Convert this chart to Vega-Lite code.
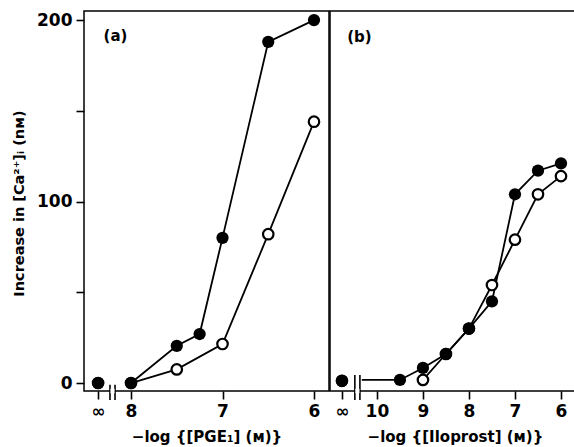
{
  "$schema": "https://vega.github.io/schema/vega-lite/v6.json",
  "padding": {"left": 10, "top": 10, "right": 0, "bottom": 0},
  "spacing": -2,
  "config": {
    "font": "DejaVu Sans",
    "view": {"stroke": "black", "strokeWidth": 1.5},
    "axis": {"domain": false, "grid": false, "tickColor": "black", "tickWidth": 1.6, "tickSize": 8, "labelColor": "black", "labelFontSize": 17, "labelFontWeight": "bold", "labelPadding": 4, "titleColor": "black", "titleFontWeight": "bold"}
  },
  "datasets": {
    "a": [
      {"x": 8.36, "y": 0, "s": "open", "ln": 0, "pt": 1},
      {"x": 8, "y": 0, "s": "open", "ln": 1, "pt": 1},
      {"x": 7.5, "y": 7.5, "s": "open", "ln": 1, "pt": 1},
      {"x": 7, "y": 21.5, "s": "open", "ln": 1, "pt": 1},
      {"x": 6.5, "y": 82, "s": "open", "ln": 1, "pt": 1},
      {"x": 6, "y": 144, "s": "open", "ln": 1, "pt": 1},
      {"x": 8.36, "y": 0, "s": "filled", "ln": 0, "pt": 1},
      {"x": 8, "y": 0, "s": "filled", "ln": 1, "pt": 1},
      {"x": 7.5, "y": 20.5, "s": "filled", "ln": 1, "pt": 1},
      {"x": 7.25, "y": 27, "s": "filled", "ln": 1, "pt": 1},
      {"x": 7, "y": 80, "s": "filled", "ln": 1, "pt": 1},
      {"x": 6.5, "y": 188, "s": "filled", "ln": 1, "pt": 1},
      {"x": 6, "y": 200, "s": "filled", "ln": 1, "pt": 1}
    ],
    "b": [
      {"x": 10.76, "y": 1.2, "s": "open", "ln": 0, "pt": 1},
      {"x": 9, "y": 1.7, "s": "open", "ln": 1, "pt": 1},
      {"x": 8.5, "y": 16, "s": "open", "ln": 1, "pt": 1},
      {"x": 8, "y": 30, "s": "open", "ln": 1, "pt": 1},
      {"x": 7.5, "y": 54, "s": "open", "ln": 1, "pt": 1},
      {"x": 7, "y": 79, "s": "open", "ln": 1, "pt": 1},
      {"x": 6.5, "y": 104, "s": "open", "ln": 1, "pt": 1},
      {"x": 6, "y": 114, "s": "open", "ln": 1, "pt": 1},
      {"x": 10.76, "y": 1.2, "s": "filled", "ln": 0, "pt": 1},
      {"x": 10.33, "y": 1.7, "s": "filled", "ln": 1, "pt": 0},
      {"x": 9.5, "y": 1.7, "s": "filled", "ln": 1, "pt": 1},
      {"x": 9, "y": 8.3, "s": "filled", "ln": 1, "pt": 1},
      {"x": 8.5, "y": 16, "s": "filled", "ln": 1, "pt": 1},
      {"x": 8, "y": 30, "s": "filled", "ln": 1, "pt": 1},
      {"x": 7.5, "y": 45, "s": "filled", "ln": 1, "pt": 1},
      {"x": 7, "y": 104, "s": "filled", "ln": 1, "pt": 1},
      {"x": 6.5, "y": 117, "s": "filled", "ln": 1, "pt": 1},
      {"x": 6, "y": 121, "s": "filled", "ln": 1, "pt": 1}
    ],
    "breaksA": [
      {"x": 8.23, "y": -1, "y2": -9.4},
      {"x": 8.175, "y": -1, "y2": -9.4}
    ],
    "gapA": [{"x": 8.225, "x2": 8.18, "y": -3.2, "y2": -5.6}],
    "breaksB": [
      {"x": 10.48, "y": 4.4, "y2": -9.4},
      {"x": 10.37, "y": 4.4, "y2": -9.4}
    ],
    "gapB": [{"x": 10.47, "x2": 10.38, "y": -3.2, "y2": -5.6}],
    "labA": [{"x": 8.17, "y": 191, "t": "(a)"}],
    "labB": [{"x": 10.38, "y": 190.5, "t": "(b)"}]
  },
  "hconcat": [
    {
      "width": 245,
      "height": 380,
      "encoding": {
        "x": {"field": "x", "type": "quantitative",
          "scale": {"domain": [5.836, 8.514], "reverse": true, "nice": false, "zero": false},
          "axis": {"values": [8.36, 8, 7, 6], "labelExpr": "datum.value > 8.1 ? '∞' : format(datum.value, 'd')", "title": "−log {[PGE₁] (ᴍ)}", "titleFontSize": 15, "titlePadding": 10}},
        "y": {"field": "y", "type": "quantitative",
          "scale": {"domain": [-4.4, 205], "nice": false, "zero": false},
          "axis": {"values": [0, 50, 100, 150, 200], "labelExpr": "datum.value % 100 == 0 ? datum.label : ''", "title": "Increase in [Ca²⁺]ᵢ (nᴍ)", "titleFontSize": 14.5, "titlePadding": 10, "titleY": 192}}
      },
      "layer": [
        {"data": {"name": "breaksA"}, "mark": {"type": "rule", "color": "black", "strokeWidth": 1.6}, "encoding": {"y2": {"field": "y2"}}},
        {"data": {"name": "gapA"}, "mark": {"type": "rect", "color": "white"}, "encoding": {"x2": {"field": "x2"}, "y2": {"field": "y2"}}},
        {"data": {"name": "a"}, "transform": [{"filter": "datum.ln == 1"}], "mark": {"type": "line", "color": "black", "strokeWidth": 1.8}, "encoding": {"detail": {"field": "s"}}},
        {"data": {"name": "a"}, "transform": [{"filter": "datum.s == 'open' && datum.pt == 1"}], "mark": {"type": "point", "shape": "circle", "fill": "white", "stroke": "black", "strokeWidth": 2.2, "size": 110, "opacity": 1}},
        {"data": {"name": "a"}, "transform": [{"filter": "datum.s == 'filled' && datum.pt == 1"}], "mark": {"type": "point", "shape": "circle", "filled": true, "color": "black", "size": 150, "opacity": 1}},
        {"data": {"name": "labA"}, "mark": {"type": "text", "fontSize": 15, "fontWeight": "bold", "color": "black"}, "encoding": {"text": {"field": "t"}}}
      ]
    },
    {
      "width": 250,
      "height": 380,
      "encoding": {
        "x": {"field": "x", "type": "quantitative",
          "scale": {"domain": [5.587, 11.02], "reverse": true, "nice": false, "zero": false},
          "axis": {"values": [10.76, 10, 9, 8, 7, 6], "labelExpr": "datum.value > 10.5 ? '∞' : format(datum.value, 'd')", "title": "−log {[Iloprost] (ᴍ)}", "titleFontSize": 15, "titlePadding": 10}},
        "y": {"field": "y", "type": "quantitative",
          "scale": {"domain": [-4.4, 205], "nice": false, "zero": false},
          "axis": null}
      },
      "layer": [
        {"data": {"name": "breaksB"}, "mark": {"type": "rule", "color": "black", "strokeWidth": 1.6}, "encoding": {"y2": {"field": "y2"}}},
        {"data": {"name": "gapB"}, "mark": {"type": "rect", "color": "white"}, "encoding": {"x2": {"field": "x2"}, "y2": {"field": "y2"}}},
        {"data": {"name": "b"}, "transform": [{"filter": "datum.ln == 1"}], "mark": {"type": "line", "color": "black", "strokeWidth": 1.8}, "encoding": {"detail": {"field": "s"}}},
        {"data": {"name": "b"}, "transform": [{"filter": "datum.s == 'open' && datum.pt == 1"}], "mark": {"type": "point", "shape": "circle", "fill": "white", "stroke": "black", "strokeWidth": 2.2, "size": 110, "opacity": 1}},
        {"data": {"name": "b"}, "transform": [{"filter": "datum.s == 'filled' && datum.pt == 1"}], "mark": {"type": "point", "shape": "circle", "filled": true, "color": "black", "size": 150, "opacity": 1}},
        {"data": {"name": "labB"}, "mark": {"type": "text", "fontSize": 15, "fontWeight": "bold", "color": "black"}, "encoding": {"text": {"field": "t"}}}
      ]
    }
  ]
}
